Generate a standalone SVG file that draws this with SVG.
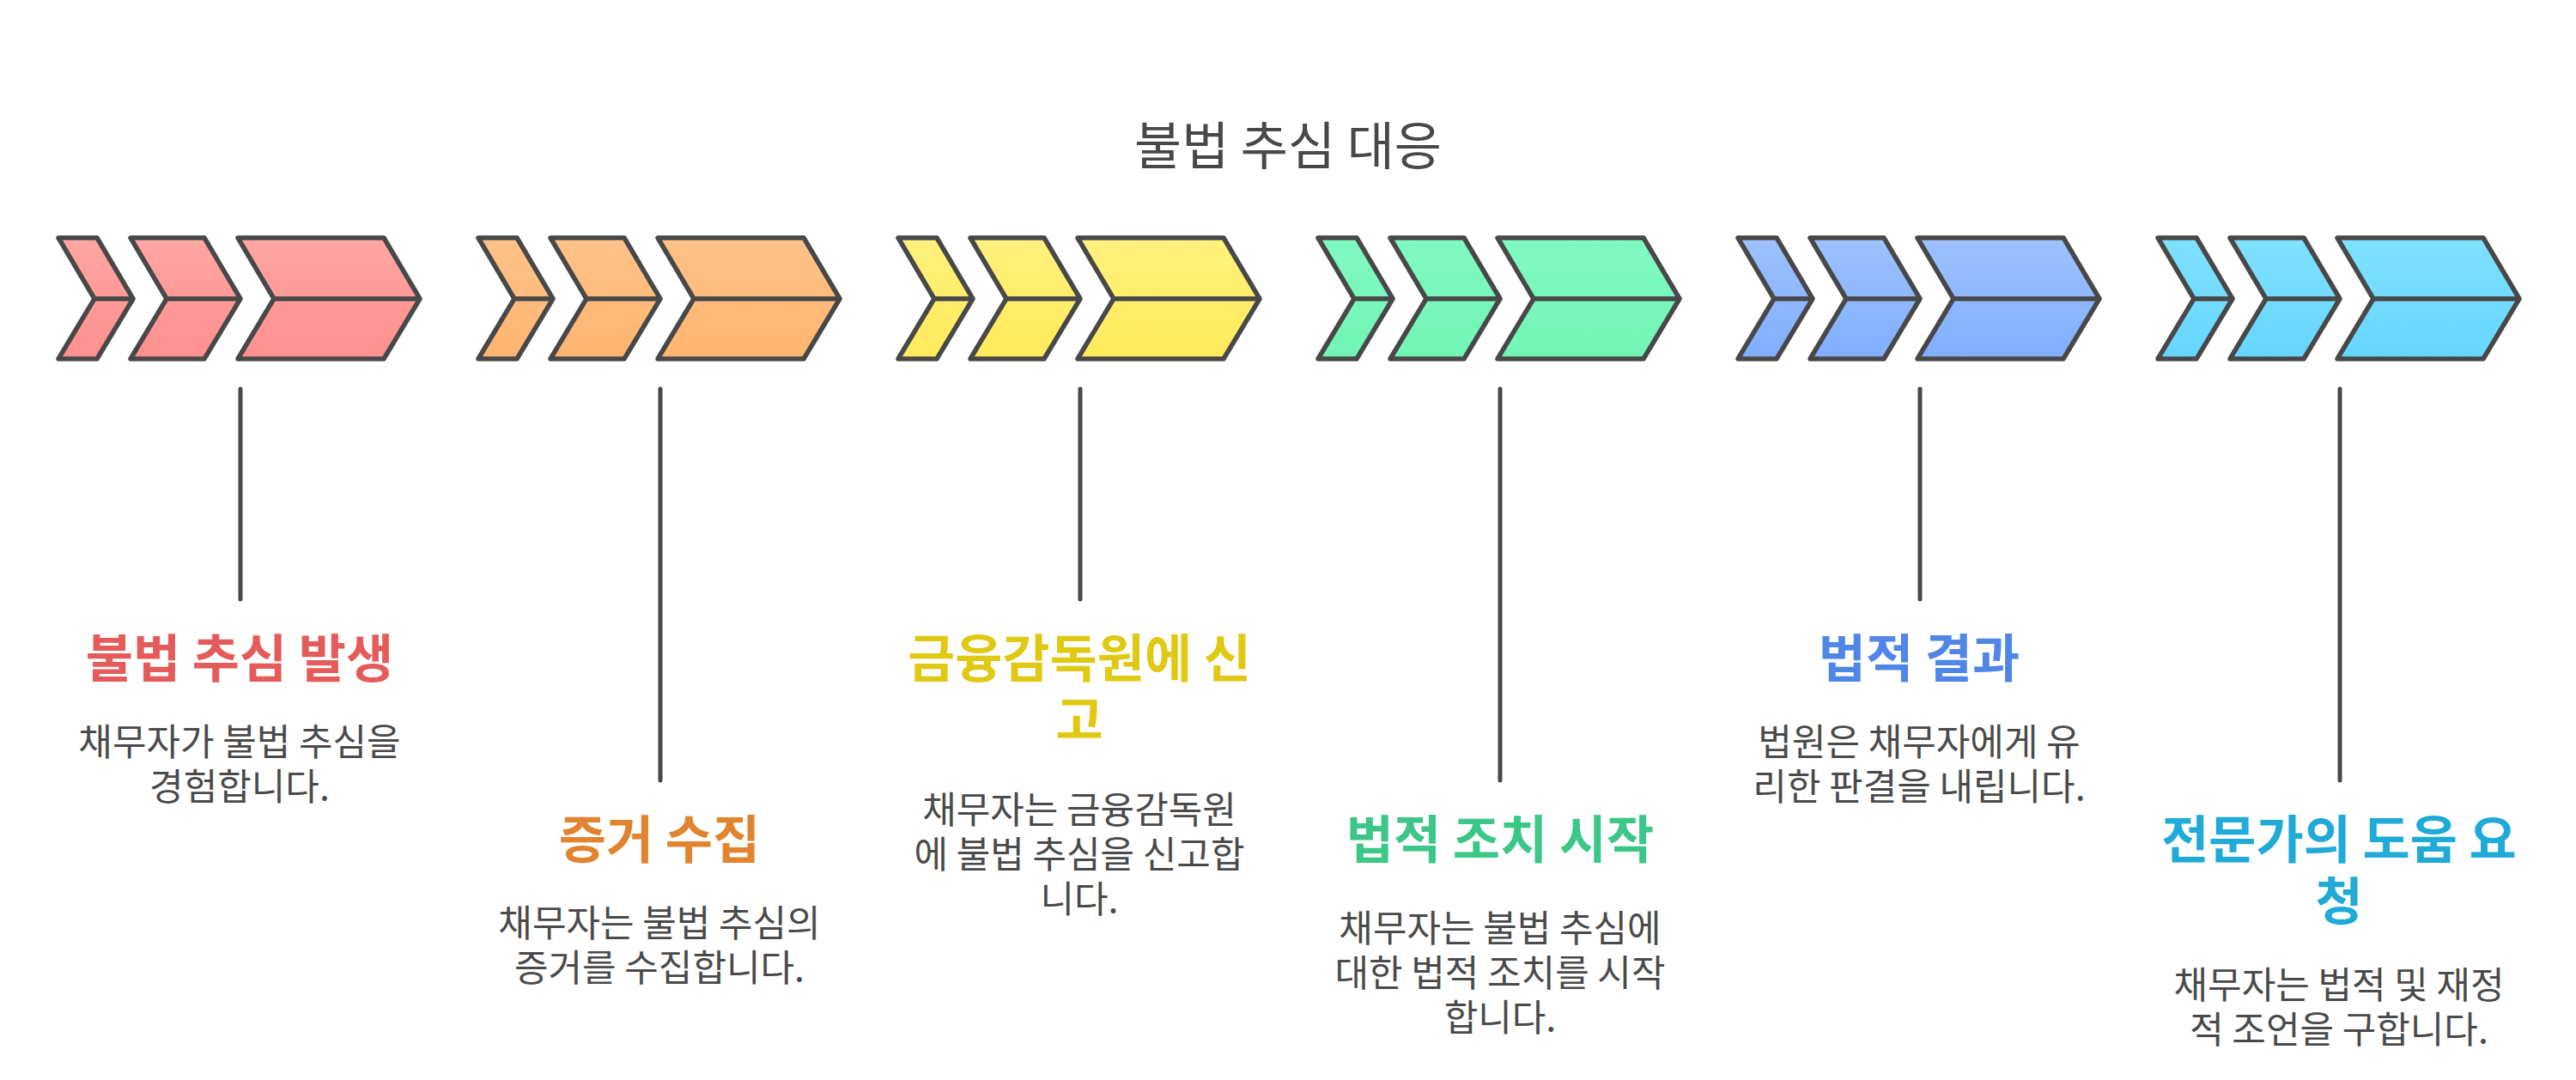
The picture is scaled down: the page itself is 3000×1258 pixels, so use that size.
<svg xmlns="http://www.w3.org/2000/svg" width="3000" height="1258" viewBox="0 0 3000 1258">
<defs>
<linearGradient id="gr" gradientUnits="userSpaceOnUse" x1="0" y1="277" x2="0" y2="418"><stop offset="0" stop-color="#FFA6A3"/><stop offset="1" stop-color="#FF8F8F"/></linearGradient>
<linearGradient id="go" gradientUnits="userSpaceOnUse" x1="0" y1="277" x2="0" y2="418"><stop offset="0" stop-color="#FFC28A"/><stop offset="1" stop-color="#FFB570"/></linearGradient>
<linearGradient id="gy" gradientUnits="userSpaceOnUse" x1="0" y1="277" x2="0" y2="418"><stop offset="0" stop-color="#FFF27E"/><stop offset="1" stop-color="#FFEA5A"/></linearGradient>
<linearGradient id="gg" gradientUnits="userSpaceOnUse" x1="0" y1="277" x2="0" y2="418"><stop offset="0" stop-color="#80F9C2"/><stop offset="1" stop-color="#73F4B6"/></linearGradient>
<linearGradient id="gb" gradientUnits="userSpaceOnUse" x1="0" y1="277" x2="0" y2="418"><stop offset="0" stop-color="#9EC2FF"/><stop offset="1" stop-color="#80AEFF"/></linearGradient>
<linearGradient id="gc" gradientUnits="userSpaceOnUse" x1="0" y1="277" x2="0" y2="418"><stop offset="0" stop-color="#80E0FF"/><stop offset="1" stop-color="#66D6FF"/></linearGradient>
<g id="chev">
<path class="ch" d="M0,277 L45,277 L87,348 L45,418 L0,418 L42,348 Z M42,348 L87,348"/>
<path class="ch" d="M84,277 L170,277 L212,348 L170,418 L84,418 L126,348 Z M126,348 L212,348"/>
<path class="ch" d="M209,277 L379,277 L421,348 L379,418 L209,418 L251,348 Z M251,348 L421,348"/>
</g>
</defs>
<style>
.ch{stroke:#484848;stroke-width:5.5;stroke-linejoin:round;stroke-linecap:round}
.ln{stroke:#484848;stroke-width:5;stroke-linecap:round;fill:none}
text{font-family:"Noto Sans CJK KR","Noto Sans",sans-serif;text-anchor:middle}
.tt{font-size:60px;fill:#484848}
.hd{font-size:60px;font-weight:700}
.ds{font-size:43px;fill:#4A4A4A}
</style>
<rect width="3000" height="1258" fill="#FFFFFF"/>
<text class="tt" x="1500" y="192">불법 추심 대응</text>
<g id="connectors">
<line class="ln" x1="280" y1="453" x2="280" y2="698"/>
<line class="ln" x1="769" y1="453" x2="769" y2="909"/>
<line class="ln" x1="1258" y1="453" x2="1258" y2="698"/>
<line class="ln" x1="1747" y1="453" x2="1747" y2="909"/>
<line class="ln" x1="2236" y1="453" x2="2236" y2="698"/>
<line class="ln" x1="2725" y1="453" x2="2725" y2="909"/>
</g>
<g id="step1">
<use href="#chev" x="68" fill="url(#gr)"/>
<text class="hd" x="279" y="789" fill="#E55B5B">불법 추심 발생</text>
<text class="ds" x="279" y="880">채무자가 불법 추심을</text>
<text class="ds" x="279" y="932">경험합니다.</text>
</g>
<g id="step2">
<use href="#chev" x="557" fill="url(#go)"/>
<text class="hd" x="768" y="1000" fill="#E2842F">증거 수집</text>
<text class="ds" x="768" y="1091">채무자는 불법 추심의</text>
<text class="ds" x="768" y="1143">증거를 수집합니다.</text>
</g>
<g id="step3">
<use href="#chev" x="1046" fill="url(#gy)"/>
<text class="hd" x="1257" y="789" fill="#E0C912">금융감독원에 신</text>
<text class="hd" x="1257" y="861" fill="#E0C912">고</text>
<text class="ds" x="1257" y="959">채무자는 금융감독원</text>
<text class="ds" x="1257" y="1011">에 불법 추심을 신고합</text>
<text class="ds" x="1257" y="1063">니다.</text>
</g>
<g id="step4">
<use href="#chev" x="1535" fill="url(#gg)"/>
<text class="hd" x="1747" y="1000" fill="#3CC687">법적 조치 시작</text>
<text class="ds" x="1747" y="1097">채무자는 불법 추심에</text>
<text class="ds" x="1747" y="1149">대한 법적 조치를 시작</text>
<text class="ds" x="1747" y="1201">합니다.</text>
</g>
<g id="step5">
<use href="#chev" x="2024" fill="url(#gb)"/>
<text class="hd" x="2235" y="789" fill="#4F86E8">법적 결과</text>
<text class="ds" x="2235" y="880">법원은 채무자에게 유</text>
<text class="ds" x="2235" y="932">리한 판결을 내립니다.</text>
</g>
<g id="step6">
<use href="#chev" x="2513" fill="url(#gc)"/>
<text class="hd" x="2724" y="1000" fill="#1FAAD8">전문가의 도움 요</text>
<text class="hd" x="2724" y="1072" fill="#1FAAD8">청</text>
<text class="ds" x="2724" y="1163">채무자는 법적 및 재정</text>
<text class="ds" x="2724" y="1215">적 조언을 구합니다.</text>
</g>
</svg>
